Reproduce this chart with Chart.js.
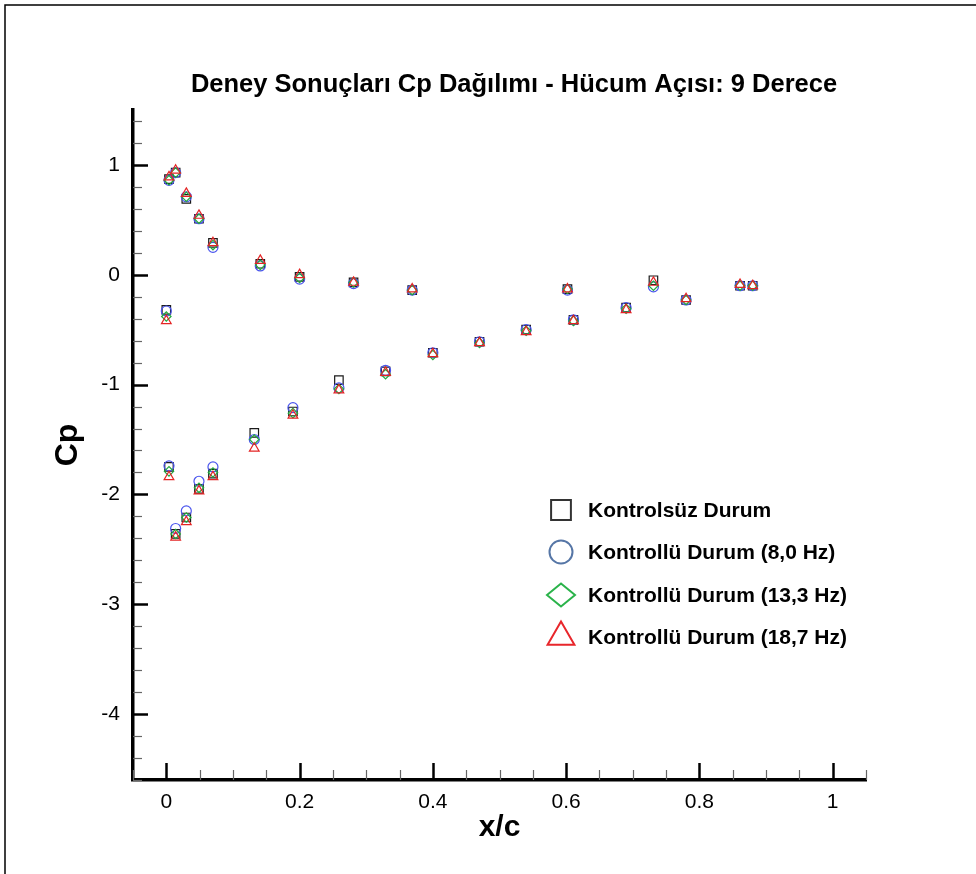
<!DOCTYPE html>
<html><head><meta charset="utf-8">
<script src="https://cdn.jsdelivr.net/npm/chart.js@4.4.1/dist/chart.umd.min.js"></script>
<style>html,body{margin:0;padding:0;background:#fff;overflow:hidden}#wrap{width:976px;height:874px}</style>
</head><body><div id="wrap"><canvas id="c" width="976" height="874"></canvas></div>
<script>
const titleText = "Deney Sonuçları Cp Dağılımı - Hücum Açısı: 9 Derece";
const xTitle = "x/c";
const yTitle = "Cp";
const seriesNames = ["Kontrolsüz Durum", "Kontrollü Durum (8,0 Hz)", "Kontrollü Durum (13,3 Hz)", "Kontrollü Durum (18,7 Hz)"];

// x/c positions of the pressure taps (upper surface, then lower surface)
const xc = [0.004, 0.014, 0.03, 0.049, 0.07, 0.141, 0.2, 0.281, 0.369, 0.602, 0.731, 0.78, 0.861, 0.88,
            0.0, 0.004, 0.014, 0.03, 0.049, 0.07, 0.132, 0.19, 0.259, 0.329, 0.40, 0.47, 0.54, 0.611, 0.69];

const cpKontrolsuz = [0.87, 0.93, 0.69, 0.51, 0.29, 0.10, -0.02, -0.07, -0.14, -0.13, -0.05, -0.23, -0.10, -0.10,
                      -0.32, -1.75, -2.36, -2.21, -1.95, -1.81, -1.44, -1.245, -0.96, -0.88, -0.71, -0.61, -0.50, -0.41, -0.30];
const cp8Hz = [0.86, 0.93, 0.71, 0.51, 0.25, 0.08, -0.04, -0.08, -0.14, -0.14, -0.11, -0.23, -0.10, -0.10,
               -0.33, -1.74, -2.31, -2.15, -1.88, -1.75, -1.50, -1.21, -1.03, -0.87, -0.71, -0.61, -0.50, -0.41, -0.30];
const cp13Hz = [0.86, 0.93, 0.71, 0.51, 0.27, 0.09, -0.03, -0.07, -0.14, -0.13, -0.10, -0.23, -0.10, -0.10,
                -0.38, -1.79, -2.36, -2.21, -1.94, -1.80, -1.50, -1.26, -1.04, -0.905, -0.73, -0.62, -0.51, -0.42, -0.31];
const cp18Hz = [0.89, 0.95, 0.74, 0.54, 0.29, 0.13, 0.00, -0.07, -0.13, -0.13, -0.07, -0.22, -0.09, -0.10,
                -0.42, -1.84, -2.39, -2.25, -1.97, -1.84, -1.58, -1.28, -1.05, -0.89, -0.72, -0.62, -0.52, -0.42, -0.32];

const xTicks = [0, 0.2, 0.4, 0.6, 0.8, 1];
const yTicks = [1, 0, -1, -2, -3, -4];

const FONT = "'Liberation Sans', Arial, sans-serif";

function pts(arr){ return xc.map((x,i)=>({x:x, y:arr[i]})); }

const styles = [
  {pointStyle:'rect', radius:6, color:'#1a1a1a', legendColor:'#333333', legendRadius:14},
  {pointStyle:'circle', radius:5, color:'#4a55ee', legendColor:'#5676a6', legendRadius:11.5},
  {pointStyle:'rectRot', radius:4.7, color:'#22a83e', legendColor:'#2ab34a', legendRadius:14},
  {pointStyle:'triangle', radius:5.6, color:'#e42424', legendColor:'#e8262b', legendRadius:15.5}
];
const seriesData = [cpKontrolsuz, cp8Hz, cp13Hz, cp18Hz];

function drawMarker(ctx, style, x, y, r){
  ctx.beginPath();
  if (style==='rect'){ const s=r*Math.SQRT1_2; ctx.rect(x-s,y-s,2*s,2*s); }
  else if (style==='circle'){ ctx.arc(x,y,r,0,Math.PI*2); }
  else if (style==='rectRot'){ ctx.moveTo(x-r,y); ctx.lineTo(x,y-r*0.82); ctx.lineTo(x+r,y); ctx.lineTo(x,y+r*0.82); ctx.closePath(); }
  else if (style==='triangle'){ ctx.moveTo(x,y-r); ctx.lineTo(x+r*0.866,y+r*0.5); ctx.lineTo(x-r*0.866,y+r*0.5); ctx.closePath(); }
  ctx.stroke();
}

const decor = {
  id:'decor',
  beforeDraw(chart){
    const ctx=chart.ctx;
    ctx.save();
    ctx.fillStyle='#fff'; ctx.fillRect(0,0,chart.width,chart.height);
    ctx.strokeStyle='#000'; ctx.lineWidth=1.5;
    ctx.beginPath(); ctx.moveTo(5,874); ctx.lineTo(5,5); ctx.lineTo(976,5); ctx.stroke();
    ctx.restore();
  },
  afterDraw(chart){
    const ctx=chart.ctx, xs=chart.scales.x, ys=chart.scales.y, a=chart.chartArea;
    ctx.save();
    // x ticks (inward)
    for (let k=-1;k<=21;k++){
      const v=k*0.05; if (v<xs.min-1e-9||v>xs.max+1e-9) continue;
      const px=Math.round(xs.getPixelForValue(v))+0.5;
      const major = k%4===0 && k>=0 && k<=20;
      ctx.strokeStyle = major?'#000':'#666'; ctx.lineWidth = major?2.5:1.2;
      ctx.beginPath(); ctx.moveTo(px,a.bottom); ctx.lineTo(px,a.bottom-(major?17:10)); ctx.stroke();
    }
    // y ticks (inward)
    for (let k=-23;k<=7;k++){
      const v=k*0.2; if (v<ys.min-1e-9||v>ys.max+1e-9) continue;
      const py=Math.round(ys.getPixelForValue(v))+0.5;
      const major = k%5===0;
      ctx.strokeStyle = major?'#000':'#666'; ctx.lineWidth = major?2.5:1.2;
      ctx.beginPath(); ctx.moveTo(a.left,py); ctx.lineTo(a.left+(major?15:9),py); ctx.stroke();
    }
    // title
    ctx.fillStyle='#000'; ctx.font="bold 25.5px "+FONT; ctx.textAlign='center'; ctx.textBaseline='middle';
    ctx.fillText(titleText, 514, 85);
    // legend
    const rows=[510,552,595,637];
    ctx.font="bold 21px "+FONT; ctx.textAlign='left';
    for (let i=0;i<4;i++){
      ctx.strokeStyle=styles[i].legendColor; ctx.lineWidth=2;
      drawMarker(ctx, styles[i].pointStyle, 561, rows[i], styles[i].legendRadius);
      ctx.fillStyle='#000';
      ctx.fillText(seriesNames[i], 588, rows[i]+1);
    }
    ctx.restore();
  }
};

const datasets = seriesData.map((d,i)=>({
  label: seriesNames[i],
  data: pts(d),
  pointStyle: styles[i].pointStyle,
  pointRadius: styles[i].radius,
  pointHoverRadius: styles[i].radius,
  borderColor: styles[i].color,
  backgroundColor: 'rgba(0,0,0,0)',
  pointBorderWidth: 1.2,
  showLine: false,
  order: 4-i
}));

new Chart(document.getElementById('c'), {
  type:'scatter',
  data:{datasets},
  options:{
    responsive:false, animation:false, devicePixelRatio:1,
    layout:{padding:{top:110,right:110,bottom:0,left:0}},
    plugins:{legend:{display:false}, tooltip:{enabled:false}, title:{display:false}},
    scales:{
      x:{type:'linear', min:-0.05, max:1.05,
        grid:{display:false, drawTicks:false},
        border:{display:true, color:'#000', width:3.5},
        ticks:{includeBounds:false, padding:10, color:'#000', font:{family:FONT, size:21}, maxRotation:0, autoSkip:false,
          callback:v=>String(Math.round(v*100)/100)},
        afterBuildTicks:s=>{ s.ticks = xTicks.map(v=>({value:v})); },
        afterFit:s=>{ s.height=94; },
        title:{display:true, text:xTitle, color:'#000', font:{family:FONT, size:30, weight:'bold'}, padding:{top:0,bottom:28}}
      },
      y:{type:'linear', min:-4.6, max:1.5,
        grid:{display:false, drawTicks:false},
        border:{display:true, color:'#000', width:3.5},
        ticks:{includeBounds:false, padding:13, color:'#000', font:{family:FONT, size:21}, autoSkip:false,
          callback:v=>String(Math.round(v*100)/100)},
        afterBuildTicks:s=>{ s.ticks = yTicks.map(v=>({value:v})); },
        afterFit:s=>{ s.width=133; },
        title:{display:true, text:yTitle, color:'#000', font:{family:FONT, size:32, weight:'bold'}, padding:{top:49,bottom:0}}
      }
    }
  },
  plugins:[decor]
});
</script></body></html>
